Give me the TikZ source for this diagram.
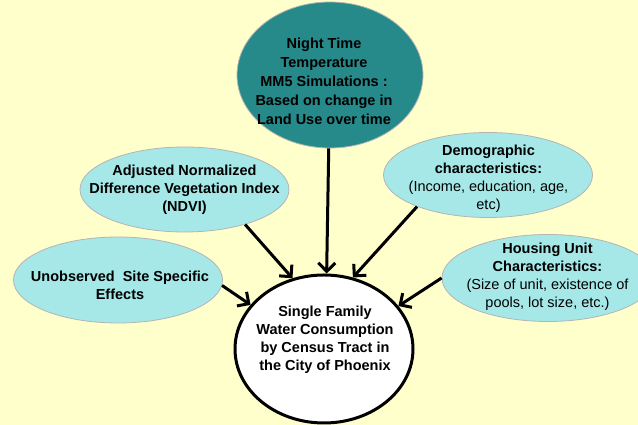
\documentclass[tikz,border=0pt]{standalone}
\usepackage{fontspec}
\setmainfont{Liberation Sans}
\usetikzlibrary{shapes.geometric,arrows.meta}
\definecolor{bg}{HTML}{FFFFCC}
\definecolor{teal1}{HTML}{268A8A}
\definecolor{cyan1}{HTML}{A6E8E8}
\definecolor{edge1}{HTML}{B4B4B4}
\begin{document}
\begin{tikzpicture}[x=1pt,y=1pt,
 ell/.style={ellipse, draw=edge1, line width=0.8pt, fill=cyan1, inner sep=0pt},
 txt/.style={align=center, font=\fontsize{14.5}{18}\selectfont\bfseries, inner sep=0pt},
 txtr/.style={align=center, font=\fontsize{14.5}{18}\selectfont, inner sep=0pt},
 arr/.style={line width=3pt, -{Straight Barb[length=8.5pt,width=17pt]}}]
\fill[bg] (0,0) rectangle (638,425);
\useasboundingbox (0,0) rectangle (638,425);
% ellipses
\node[ellipse, draw=edge1, line width=0.8pt, fill=teal1, minimum width=186pt, minimum height=146pt] (teal) at (330,350) {};
\node[ell, minimum width=209pt, minimum height=85pt] (ndvi) at (184.5,235.5) {};
\node[ell, minimum width=209pt, minimum height=86pt] (unobs) at (118,145) {};
\node[ell, minimum width=209pt, minimum height=85pt] (demo) at (488,250) {};
\node[ell, minimum width=212pt, minimum height=87pt] (house) at (548,147) {};
\node[ellipse, draw=black, line width=3pt, fill=white, minimum width=178pt, minimum height=148pt] (water) at (324,76) {};
% texts
\node[txt, font=\fontsize{14.5}{19}\selectfont\bfseries] (tealT) at (324,344) {Night Time\\Temperature\\MM5 Simulations :\\Based on change in\\Land Use over time};
\node[txt] (ndviT) at (184.5,235) {Adjusted Normalized\\Difference Vegetation Index\\(NDVI)};
\node[txt] (unobsT) at (120,139.5) {Unobserved\ \ Site Specific\\Effects};
\node[txtr] (demoT) at (488.5,246) {\bfseries Demographic\\\bfseries characteristics:\\(Income, education, age,\\etc)};
\node[txtr] (houseT) at (547.5,148) {\bfseries Housing Unit\\\bfseries Characteristics:\\(Size of unit, existence of\\pools, lot size, etc.)};
\node[txt] (waterT) at (325,85) {Single Family\\Water Consumption\\by Census Tract in\\the City of Phoenix};
% arrows
\draw[arr] (teal.-91) -- (water.88);
\draw[arr] (ndvi.-30) -- (water.114);
\draw[arr] (unobs.-3) -- (water.149);
\draw[arr] (demo.204) -- (water.68);
\draw[arr] (house.west) -- (water.30);
\end{tikzpicture}
\end{document}
